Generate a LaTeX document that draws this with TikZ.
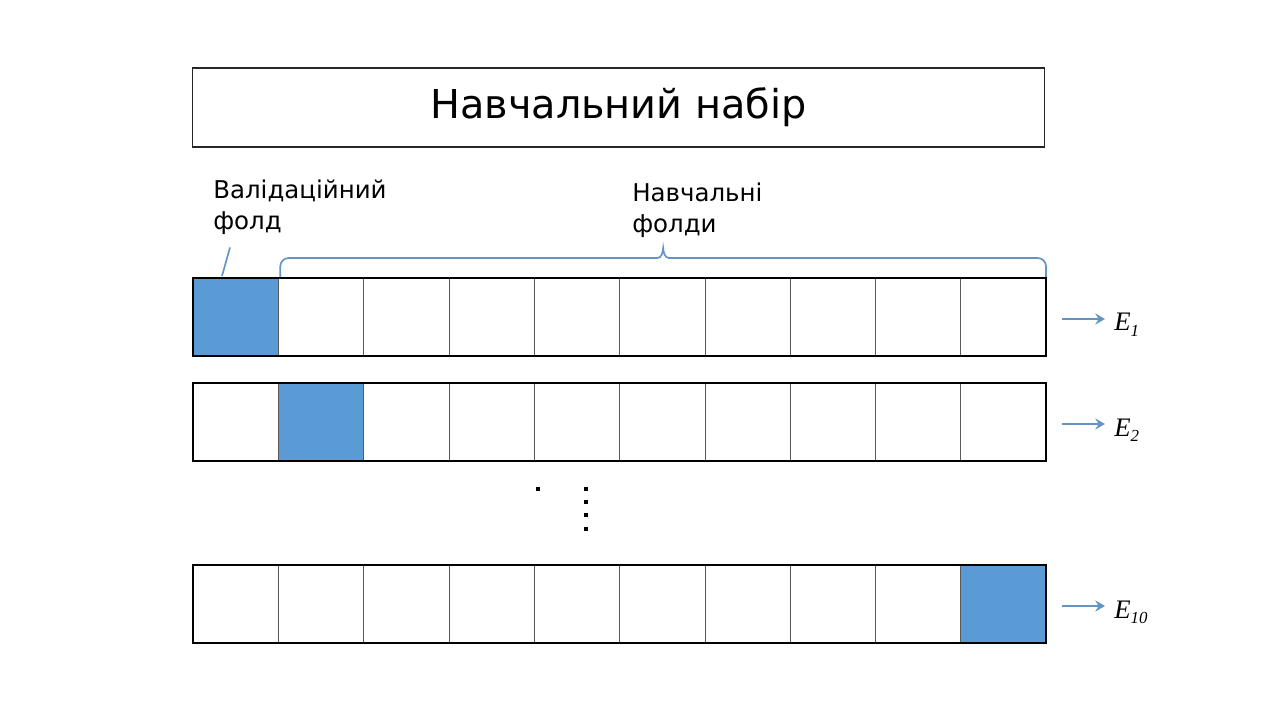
\documentclass[tikz,border=0pt]{standalone}
\usepackage{fontspec}
\setmainfont{DejaVu Sans}
\newfontfamily\efont{Liberation Serif}
\usetikzlibrary{positioning,calc,arrows.meta}
\definecolor{foldblue}{RGB}{91,155,213}
\definecolor{linkblue}{RGB}{98,148,196}

\begin{document}
\begin{tikzpicture}[x=0.025cm,y=-0.025cm]
\tikzstyle{cell} = [draw=black!65,line width=0.4pt,minimum width=2.1325cm,minimum height=1.95cm,inner sep=0,outer sep=0];
\tikzstyle{valcell} = [cell,fill=foldblue];
\tikzstyle{frame} = [draw=black,line width=1.1pt];
\tikzstyle{title} = [draw=black!85,line width=0.8pt,minimum width=21.275cm,minimum height=1.975cm,font=\fontsize{28.3}{34}\selectfont];
\tikzstyle{label} = [font=\fontsize{17.4}{21.5}\selectfont,align=left,inner sep=0,anchor=north west];
\tikzstyle{elabel} = [font=\efont\itshape\fontsize{19}{20}\selectfont,inner sep=0,anchor=base west];
\tikzstyle{arr} = [line width=1.3pt,-{Stealth[length=7pt,width=8pt,inset=2.5pt]},linkblue];
\tikzstyle{pointer} = [line width=1.2pt,linkblue];
\useasboundingbox (0,0) rectangle (1280,720);
\node [title] (set) at (618.5,107.5) {Навчальний набір};
\node [label] (val) at (213,180) {Валідаційний\\фолд};
\node [label] (train) at (632,183) {Навчальні\\фолди};
\foreach \r/\y/\v in {1/317/1,2/422/2,3/604/10} {
  \foreach \c in {1,...,10} {
    \ifnum\c=\v\relax\def\cs{valcell}\else\def\cs{cell}\fi
    \node [\cs] (c\r-\c) at ({193+85.3*(\c-0.5)},\y) {};
  }
  \draw [frame] (c\r-1.north west) rectangle (c\r-10.south east);
  \node [elabel] (e\r) at (1114,\y+14) {E\raisebox{-0.45ex}{\fontsize{12}{12}\selectfont\v}};
  \draw [arr] ($(c\r-10.east)+(16,2)$) -- ($(e\r.west |- c\r-10.east)+(-9,2)$);
}
\draw [pointer] ($(val.south west)+(17,13)$) -- ($(c1-1.north west)+(29,-2)$);
% brace over the training folds
\coordinate (bl) at ($(c1-2.north west)+(2,-1)$);
\coordinate (br) at ($(c1-10.north east)+(0,-1)$);
\coordinate (tip) at ($(bl)!0.5!(br)+(0,-29)$);
\draw [pointer,rounded corners=6] (bl) |- ($(tip)+(-5,10)$);
\draw [pointer] ($(tip)+(-6,10)$) to[out=0,in=-95] (tip) to[out=-85,in=180] ($(tip)+(6,10)$);
\draw [pointer,rounded corners=6] ($(tip)+(5,10)$) -| (br);
% dots between the rows
\fill (536,487) rectangle +(4,4);
\foreach \y in {487,500,513,527} \fill (584,\y) rectangle +(4,4);
\end{tikzpicture}
\end{document}
